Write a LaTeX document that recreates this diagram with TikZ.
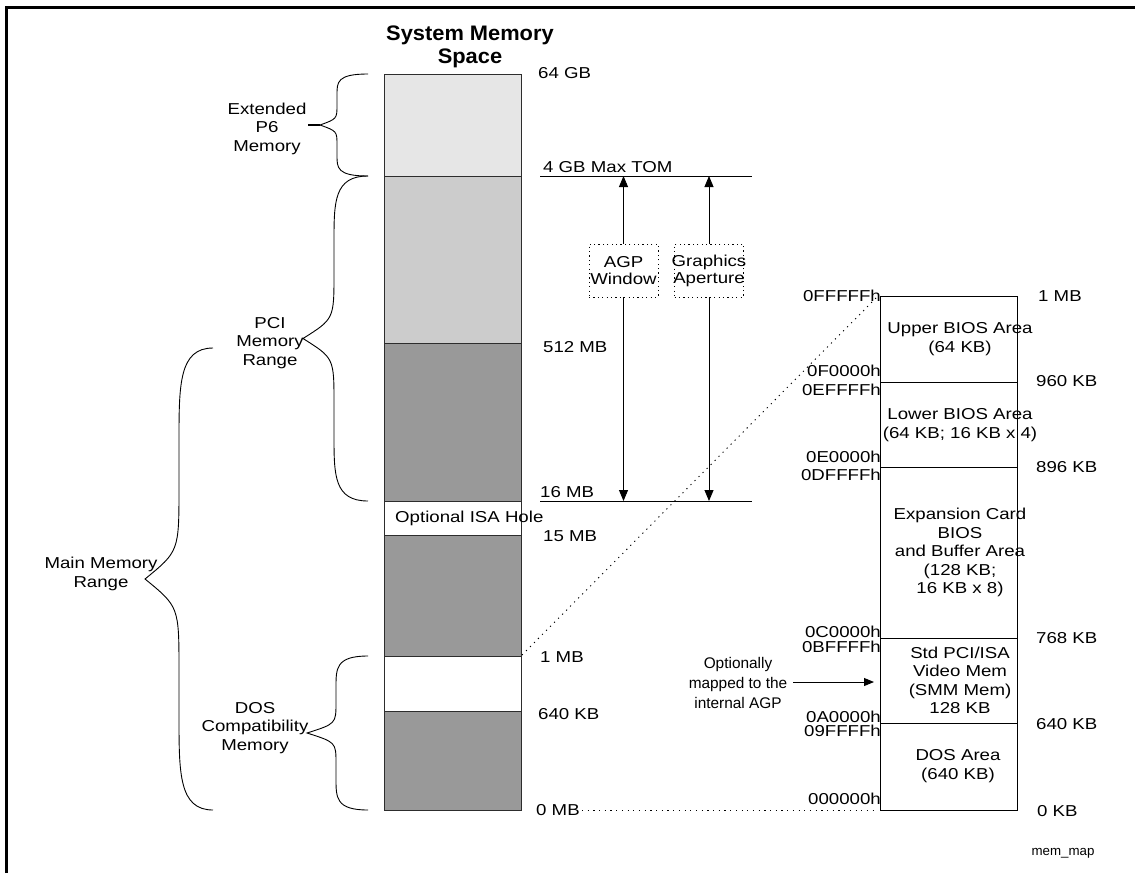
\documentclass[tikz,border=0pt]{standalone}
\usepackage{fontspec}
\setmainfont[FakeStretch=1.18]{Liberation Sans}
\newfontfamily\plainfont{Liberation Sans}
\newfontfamily\titlefont[FakeStretch=1.04]{Liberation Sans}
\usetikzlibrary{arrows.meta, positioning}
\definecolor{SegLight}{RGB}{230,230,230}
\definecolor{SegMid}{RGB}{204,204,204}
\definecolor{SegDark}{RGB}{153,153,153}
\definecolor{SegEdge}{RGB}{45,45,45}

% curly brace: x end, x of the stem, x of the tip, y top, y bottom
\newcommand{\spanbrace}[5]{%
  \draw[line width=0.9pt] (#1,#4)
    .. controls (#2,#4) and (#2,{#4+0.08*(#5-#4)}) .. (#2,{#4+0.2*(#5-#4)})
    -- (#2,{#4+0.3*(#5-#4)})
    .. controls (#2,{#4+0.44*(#5-#4)}) .. (#3,{0.5*(#4+#5)})
    .. controls (#2,{#5-0.44*(#5-#4)}) .. (#2,{#5-0.3*(#5-#4)})
    -- (#2,{#5-0.2*(#5-#4)})
    .. controls (#2,{#5-0.08*(#5-#4)}) and (#2,#5) .. (#1,#5);}

\begin{document}
\begin{tikzpicture}[x=1pt, y=-1pt,
    every node/.style={font=\fontsize{15.8}{18.5}\selectfont, inner sep=0pt},
    seg/.style={draw=SegEdge, line width=0.9pt},
    memlbl/.style={anchor=west},
    hexlbl/.style={anchor=east},
    dotbox/.style={draw, line width=0.9pt, dash pattern=on 1.2pt off 3.2pt, minimum width=69pt, minimum height=53pt},
    mapline/.style={line width=0.9pt, dash pattern=on 1.2pt off 4.5pt},
    dimarrow/.style={line width=0.9pt, -{Triangle[length=11pt,width=9pt]}}]
    \useasboundingbox (0,0) rectangle (1135,873);

    % Frame
    \draw[line width=2.5pt] (6.5,873) -- (6.5,7.5) -- (1135,7.5);

    % System memory column
    \foreach \ytop/\ybot/\shade in {74/176/SegLight, 176/343/SegMid, 343/501/SegDark,
        501/535/white, 535/656/SegDark, 656/711/white, 711/810/SegDark}
      \filldraw[seg, fill=\shade] (384,\ytop) rectangle (521,\ybot);
    \node[font=\fontsize{21}{23}\selectfont\titlefont\bfseries, align=center] (title) at (470,47) {System Memory\\Space};
    \node[anchor=west] (isahole) at (395,518) {Optional ISA Hole};

    % Boundaries
    \node[memlbl] (l64GB) at (538,73) {64 GB};
    \node[memlbl] (l4GB) at (543,167) {4 GB Max TOM};
    \node[memlbl] (l512MB) at (543,347) {512 MB};
    \node[memlbl] (l16MB) at (540,492) {16 MB};
    \node[memlbl] (l15MB) at (543,536) {15 MB};
    \node[memlbl] (l1MB) at (540,657) {1 MB};
    \node[memlbl] (l640KB) at (538,714) {640 KB};
    \node[memlbl] (l0MB) at (536,810) {0 MB};
    \coordinate (tomL) at (540,176);
    \coordinate (tomR) at (752,176);
    \coordinate (isaL) at (540,501);
    \coordinate (isaR) at (752,501);
    \draw[line width=0.9pt] (tomL) -- (tomR);
    \draw[line width=0.9pt] (isaL) -- (isaR);

    % AGP window and aperture
    \node[dotbox] (agpbox) at (623.5,270.5) {};
    \node[align=center, font=\fontsize{15.8}{17}\selectfont] (agptext) at (agpbox) {AGP\\Window};
    \node[dotbox] (gfxbox) at (709,270.5) {};
    \node[align=center, font=\fontsize{15.8}{17}\selectfont] (gfxtext) at (gfxbox) {Graphics\\Aperture};
    \draw[dimarrow] (agpbox.north) -- (agpbox.north |- tomL);
    \draw[dimarrow] (agpbox.south) -- (agpbox.south |- isaL);
    \draw[dimarrow] (gfxbox.north) -- (gfxbox.north |- tomL);
    \draw[dimarrow] (gfxbox.south) -- (gfxbox.south |- isaL);

    % Braces
    \spanbrace{368}{337}{320}{74}{176}
    \draw[line width=1.6pt] (308,125) -- (320,125);
    \spanbrace{368}{334}{303}{176}{501}
    \spanbrace{213}{179}{145}{348}{810}
    \spanbrace{368}{336}{307}{656}{810}
    \node[align=center] (extp6) at (267,128.5) {Extended\\P6\\Memory};
    \node[align=center] (pcirange) at (270,343) {PCI\\Memory\\Range};
    \node[align=center] (mainrange) at (101,574) {Main Memory\\Range};
    \node[align=center] (dosmem) at (255,728) {DOS\\Compatibility\\Memory};

    % Lower 1 MB detail
    \foreach \ytop/\ybot in {296/382, 382/467, 467/638, 638/723, 723/810}
      \draw[line width=0.9pt] (880,\ytop) rectangle (1017,\ybot);
    \node[align=center] (upperbios) at (960,339) {Upper BIOS Area\\(64 KB)};
    \node[align=center] (lowerbios) at (960,425) {Lower BIOS Area\\(64 KB; 16 KB x 4)};
    \node[align=center] (expbios) at (960,552.5) {Expansion Card\\BIOS\\and Buffer Area\\(128 KB;\\16 KB x 8)};
    \node[align=center] (videomem) at (960,680.5) {Std PCI/ISA\\Video Mem\\(SMM Mem)\\128 KB};
    \node[align=center] (dosarea) at (958,766) {DOS Area\\(640 KB)};

    \node[hexlbl] (h0FFFFF) at (881,296) {0FFFFFh};
    \node[hexlbl] (h0F0000) at (881,371) {0F0000h};
    \node[hexlbl] (h0EFFFF) at (881,390) {0EFFFFh};
    \node[hexlbl] (h0E0000) at (881,457) {0E0000h};
    \node[hexlbl] (h0DFFFF) at (881,475) {0DFFFFh};
    \node[hexlbl] (h0C0000) at (881,632) {0C0000h};
    \node[hexlbl] (h0BFFFF) at (881,647) {0BFFFFh};
    \node[hexlbl] (h0A0000) at (881,717) {0A0000h};
    \node[hexlbl] (h09FFFF) at (881,731) {09FFFFh};
    \node[hexlbl] (h000000) at (881,799) {000000h};

    \node[memlbl] (r1MB) at (1038,296) {1 MB};
    \node[memlbl] (r960KB) at (1036,381) {960 KB};
    \node[memlbl] (r896KB) at (1036,467) {896 KB};
    \node[memlbl] (r768KB) at (1036,638) {768 KB};
    \node[memlbl] (r640KB) at (1036,724) {640 KB};
    \node[memlbl] (r0KB) at (1037,811) {0 KB};

    % Mapping
    \coordinate (col1MB) at (522,655);
    \coordinate (boxTL) at (878,296);
    \coordinate (boxBL) at (878,810);
    \draw[mapline] (col1MB) -- (boxTL);
    \draw[mapline] ([xshift=2pt]l0MB.east) -- (boxBL);

    \node[font=\fontsize{15.4}{20}\selectfont\plainfont, align=center] (optnote) at (738,683) {Optionally\\mapped to the\\internal AGP};
    \coordinate (vidin) at (874,682);
    \draw[line width=0.9pt, -{Triangle[length=10pt,width=8pt]}] ([xshift=6pt]optnote.east |- vidin) -- (vidin);

    \node[font=\fontsize{13.3}{14}\selectfont\plainfont] (figtag) at (1063,853) {mem\_map};
  \end{tikzpicture}
\end{document}
